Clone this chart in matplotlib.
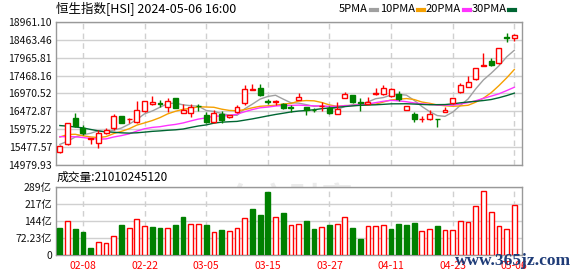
import numpy as np
import pandas as pd
import matplotlib
matplotlib.use("Agg")
import matplotlib.pyplot as plt
from matplotlib.lines import Line2D

# trading days shown
dates = ['02-05', '02-06', '02-07', '02-08', '02-09', '02-14', '02-15', '02-16',
         '02-19', '02-20', '02-21', '02-22', '02-23', '02-26', '02-27', '02-28',
         '02-29', '03-01', '03-04', '03-05', '03-06', '03-07', '03-08', '03-11',
         '03-12', '03-13', '03-14', '03-15', '03-18', '03-19', '03-20', '03-21',
         '03-22', '03-25', '03-26', '03-27', '03-28', '04-02', '04-03', '04-05',
         '04-08', '04-09', '04-10', '04-11', '04-12', '04-15', '04-16', '04-17',
         '04-18', '04-19', '04-22', '04-23', '04-24', '04-25', '04-26', '04-29',
         '04-30', '05-02', '05-03', '05-06']

open_ = [15340, 15560, 16290, 16005, 15720, 15589, 15866, 16023, 16346, 16255,
         16190, 16485, 16671, 16700, 16587, 16835, 16440, 16420, 16625, 16374,
         16190, 16402, 16310, 16467, 16715, 17080, 17114, 16750, 16745, 16671,
         16590, 16791, 16606, 16525, 16625, 16578, 16393, 16836, 16929, 16730,
         16690, 16950, 16948, 16901, 16956, 16514, 16393, 16255, 16254, 16262,
         16449, 16698, 17022, 17161, 17364, 17740, 17881, 17807, 18540, 18517]
high = [15545, 16160, 16420, 16098, 15740, 15959, 16024, 16393, 16346, 16282,
        16763, 16760, 16901, 16790, 16837, 16840, 16671, 16671, 16671, 16467,
        16514, 16495, 16374, 16651, 17207, 17225, 17225, 16810, 16780, 16715,
        16640, 16976, 16606, 16580, 16725, 16624, 16735, 17020, 16929, 16836,
        16883, 17131, 17207, 17130, 17040, 16624, 16467, 16355, 16513, 16262,
        16587, 16836, 17252, 17456, 17668, 18085, 17950, 18223, 18639, 18611]
low = [15330, 15545, 16051, 15820, 15561, 15470, 15840, 15959, 16162, 16143,
       16162, 16460, 16665, 16605, 16467, 16560, 16440, 16328, 16495, 16143,
       16143, 16143, 16300, 16440, 16651, 17070, 16900, 16671, 16660, 16532,
       16470, 16791, 16375, 16467, 16495, 16400, 16393, 16836, 16698, 16495,
       16680, 16930, 16930, 16880, 16772, 16514, 16190, 16172, 16236, 16050,
       16449, 16680, 16975, 17140, 17350, 17733, 17720, 17800, 18406, 18434]
close = [15510, 16140, 16070, 15884, 15735, 15866, 15959, 16346, 16162, 16270,
         16513, 16753, 16726, 16690, 16772, 16580, 16514, 16606, 16612, 16190,
         16440, 16236, 16374, 16587, 17096, 17090, 16929, 16740, 16755, 16560,
         16580, 16883, 16525, 16515, 16635, 16420, 16532, 16956, 16744, 16720,
         16735, 16975, 17114, 17100, 16810, 16624, 16254, 16268, 16393, 16255,
         16514, 16836, 17206, 17281, 17668, 17750, 17760, 18223, 18520, 18590]

# closes before 02-05, only used for the moving averages
prev_close = [16621, 16792, 16625, 17043, 17047, 16789, 16646, 16645, 16535, 16224,
              16190, 16098, 16302, 16244, 16217, 15866, 15277, 15391, 15309, 14961,
              15450, 16000, 16300, 16050, 16040, 15703, 15485, 15567, 15533]

# turnover in 100 million HKD
volume = [115.6, 143.8, 110.0, 98.7, 31.0, 55.0, 50.8, 80.4, 127.0, 114.0,
          152.0, 122.7, 118.4, 114.0, 114.0, 128.0, 160.7, 131.0, 131.0, 127.0,
          97.0, 106.0, 101.5, 114.0, 156.5, 194.6, 170.6, 268.0, 160.7, 179.0,
          125.5, 131.0, 145.0, 111.0, 118.0, 127.0, 131.0, 161.0, 115.6, 69.0,
          122.7, 122.7, 127.0, 111.0, 132.5, 128.0, 137.0, 101.5, 110.0, 122.7,
          106.0, 106.0, 143.8, 139.6, 207.0, 270.7, 182.0, 122.7, 110.0, 210.1]
last_volume = "21010245120"

price_ticks = [14979.93, 15477.57, 15975.22, 16472.87, 16970.52,
               17468.16, 17965.81, 18463.46, 18961.10]
vol_ticks = [0, 72.23, 144.46, 216.69, 288.92]
vol_tick_labels = ['0', '72.23亿', '144亿', '217亿', '289亿']

ma_periods = [5, 10, 20, 30]
ma_names = ['5PMA', '10PMA', '20PMA', '30PMA']
ma_colors = ['#a0a0a0', '#f5a000', '#ff33ff', '#006633']

title = "恒生指数[HSI] 2024-05-06 16:00"

if __name__ == "__main__":
    plt.rcParams['font.family'] = ['Noto Sans CJK SC', 'DejaVu Sans']

    RED = '#ff0000'
    GREEN = '#008000'
    GRID = '#d0d0d0'
    BORDER = '#999999'

    o = np.array(open_, dtype=float)
    h = np.array(high, dtype=float)
    l = np.array(low, dtype=float)
    c = np.array(close, dtype=float)
    v = np.array(volume, dtype=float)
    x = np.arange(len(c))

    all_close = pd.Series(prev_close + close, dtype=float)
    n_prev = len(prev_close)

    fig = plt.figure(figsize=(5.78, 2.76), dpi=100)
    ax1 = fig.add_axes([56 / 578, 1 - 165.3 / 276, 466 / 578, 143.6 / 276])
    ax2 = fig.add_axes([56 / 578, 1 - 255 / 276, 466 / 578, 68.3 / 276])

    # price panel
    for p, col in zip(ma_periods, ma_colors):
        ma = all_close.rolling(p).mean().to_numpy()[n_prev:]
        ax1.plot(x, ma, '-', c=col, lw=1, zorder=3)

    up = c >= o
    cand_col = np.where(up, RED, GREEN)
    cand_face = np.where(up, 'white', GREEN)
    ax1.vlines(x, l, h, colors=cand_col, lw=1, zorder=4)
    ax1.bar(x, np.abs(c - o), bottom=np.minimum(o, c), width=0.64,
            color=cand_face, edgecolor=cand_col, lw=1, zorder=5)

    tick_idx = list(range(3, len(dates), 8))

    ax1.set_xlim(-0.5, 60)
    ax1.set_ylim(price_ticks[0], price_ticks[-1])
    ax1.set_yticks(price_ticks)
    ax1.set_yticklabels(['%.2f' % t for t in price_ticks])
    ax1.set_xticks(tick_idx)
    ax1.set_xticklabels([])
    ax1.grid(True, axis='y', color=GRID, lw=1, ls='-', zorder=0)
    for t in tick_idx:
        ax1.axvline(t, color=GRID, lw=1, ls=(0, (4, 3)), zorder=0)

    ax1.text(0.5, 0.27, "东方财富", transform=fig.transFigure, fontsize=23,
             fontweight='bold', color='#ececec', ha='center', va='center', zorder=0)

    # volume panel
    prev = np.concatenate([[prev_close[-1]], c[:-1]])
    vup = c >= prev
    vol_col = np.where(vup, RED, GREEN)
    vol_face = np.where(vup, 'white', GREEN)
    ax2.bar(x, v, width=0.62, color=vol_face, edgecolor=vol_col, lw=1, zorder=3)
    ax2.set_xlim(-0.5, 60)
    ax2.set_ylim(vol_ticks[0], vol_ticks[-1])
    ax2.set_yticks(vol_ticks)
    ax2.set_yticklabels(vol_tick_labels)
    ax2.set_xticks(tick_idx)
    ax2.set_xticklabels([dates[i] for i in tick_idx], color=RED)
    ax2.grid(True, axis='y', color=GRID, lw=1, ls='-', zorder=0)
    for t in tick_idx:
        ax2.axvline(t, color=GRID, lw=1, ls=(0, (4, 3)), zorder=0)

    for ax in (ax1, ax2):
        for s in ax.spines.values():
            s.set_color(BORDER)
            s.set_linewidth(1)
        ax.tick_params(axis='both', length=0, labelsize=7.5, pad=3,
                       labelcolor='#111111')
    ax2.tick_params(axis='x', labelcolor=RED, pad=4)

    # header texts
    fig.text(56 / 578, 1 - 9 / 276, title, fontsize=9, ha='left', va='center')
    fig.text(57 / 578, 1 - 177 / 276, "成交量:" + last_volume, fontsize=8.5,
             ha='left', va='center')

    leg_x = [338.7, 379.7, 425.7, 471.3]
    for name, col, lx in zip(ma_names, ma_colors, leg_x):
        t = fig.text(lx / 578, 1 - 9 / 276, name, fontsize=8, ha='left', va='center')
        fig.canvas.draw()
        bb = t.get_window_extent()
        x0 = bb.x1 + 3
        fig.add_artist(Line2D([x0 / 578, (x0 + 6) / 578], [1 - 9.5 / 276, 1 - 9.5 / 276],
                              color=col, lw=3, transform=fig.transFigure))

    fig.text(513 / 578, 1 - 261 / 276, "www.365jz.com", fontsize=12.5,
             family='Liberation Serif', fontweight='bold', color='#1f3c78',
             ha='center', va='center')

    fig.savefig("out.png", dpi=100)
